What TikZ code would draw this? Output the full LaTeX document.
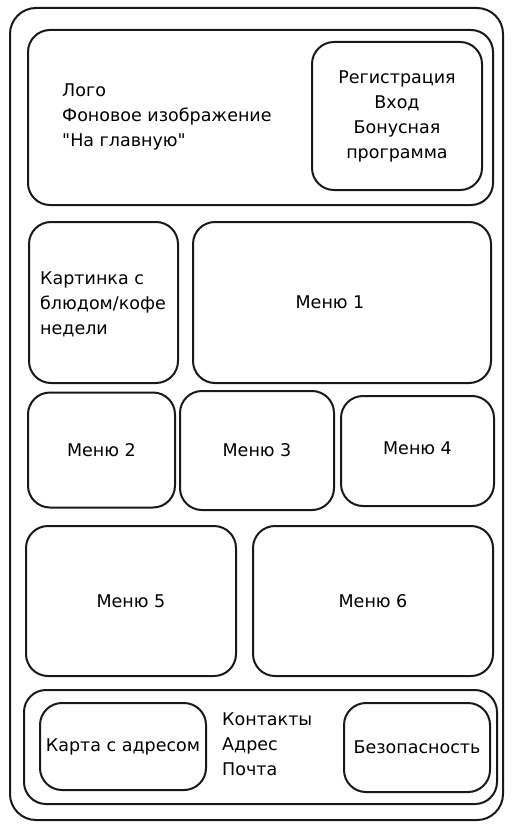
\documentclass[tikz,border=0pt]{standalone}
\usepackage{fontspec}
\setmainfont{DejaVu Sans}[Ligatures=TeXOff]
\begin{document}
\begin{tikzpicture}[x=1pt,y=-1pt,
  box/.style={draw=black!90, line width=2pt, rounded corners=22pt, rectangle, inner sep=0pt, align=center, font=\fontsize{17.5}{25}\selectfont},
  txt/.style={font=\fontsize{17.5}{25}\selectfont, align=left, inner sep=0pt}]
\useasboundingbox (0,0) rectangle (516,829);
\node[box, rounded corners=26pt, minimum width=493pt, minimum height=812pt] (outer) at (256.5,414) {};
\node[box, minimum width=465pt, minimum height=175pt] (header) at (260.5,117.5) {};
\node[box, minimum width=170pt, minimum height=148pt] (reg) at (397,116) {Регистрация\\Вход\\Бонусная\\программа};
\node[txt, anchor=west] (logo) at (62,117) {Лого\\Фоновое изображение\\"На главную"};
\node[box, minimum width=149pt, minimum height=161pt] (pic) at (103.5,302.5) {};
\node[txt, anchor=west] (pictext) at (40,304) {Картинка с\\блюдом/кофе\\недели};
\node[box, minimum width=298pt, minimum height=161pt] (m1) at (342,302.5) {\hspace*{-24pt}Меню 1};
\node[box, minimum width=147pt, minimum height=115pt] (m2) at (101.5,450) {Меню 2};
\node[box, minimum width=154pt, minimum height=119pt] (m3) at (257,450.5) {\raisebox{-4pt}{Меню 3}};
\node[box, minimum width=153pt, minimum height=110pt] (m4) at (417.5,451) {\raisebox{6pt}{Меню 4}};
\node[box, minimum width=210pt, minimum height=150pt] (m5) at (131,601) {Меню 5};
\node[box, minimum width=240pt, minimum height=150pt] (m6) at (373,601) {Меню 6};
\node[box, minimum width=473pt, minimum height=114pt] (footer) at (260.5,747) {};
\node[box, minimum width=166pt, minimum height=87pt] (map) at (123,746.5) {Карта с адресом};
\node[box, minimum width=146pt, minimum height=89pt] (sec) at (417,747.5) {Безопасность};
\node[txt, anchor=west] (contacts) at (222,744) {Контакты\\Адрес\\Почта};
\end{tikzpicture}
\end{document}
